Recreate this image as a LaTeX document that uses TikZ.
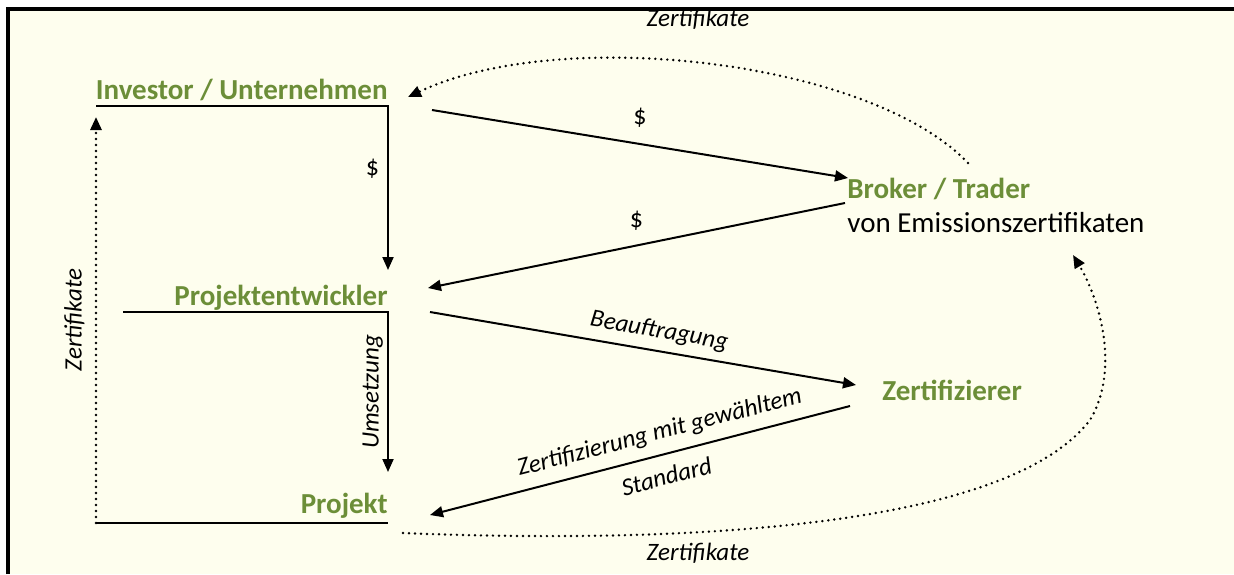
\documentclass[tikz,border=0pt]{standalone}
\usepackage{fontspec}
\setmainfont{Carlito}
\usetikzlibrary{arrows.meta}
\definecolor{cream}{RGB}{254,254,238}
\definecolor{olive}{RGB}{108,142,56}
\tikzset{
  lab/.style={font=\fontsize{14.5}{16}\selectfont\bfseries, text=olive, inner sep=0pt},
  sub/.style={font=\fontsize{14.5}{16}\selectfont, text=black, inner sep=0pt},
  elab/.style={font=\fontsize{12.5}{14}\selectfont\itshape, inner sep=1pt},
  dlab/.style={font=\fontsize{13}{14}\selectfont, inner sep=1pt},
  arr/.style={line width=1pt, -{Triangle[length=6.5pt,width=5.5pt]}},
  plain/.style={line width=1pt},
  dots/.style={line width=1.35pt, line cap=round, dash pattern=on 0pt off 3pt},
  dotarr/.style={dots, -{Triangle[length=6.5pt,width=5.5pt]}},
}
\begin{document}
\begin{tikzpicture}[x=0.5pt,y=-0.5pt]
\useasboundingbox (0,0) rectangle (1234,574);
\fill[white] (0,0) rectangle (1234,574);
\fill[cream] (8,9) rectangle (1234,574);
\draw[line width=1.6pt] (8,574) -- (8,9) -- (1234,9);

% labels
\node[lab, anchor=base east] (inv) at (388,99) {Investor / Unternehmen};
\node[lab, anchor=base east] (pe) at (388,305) {Projektentwickler};
\node[lab, anchor=base east] (proj) at (388,513) {Projekt};
\node[lab, anchor=base west] (brk) at (847,198) {Broker / Trader};
\node[sub, anchor=base west] (brk2) at (847,232) {von Emissionszertifikaten};
\node[lab, anchor=base west] (zer) at (882,400) {Zertifizierer};

% coordinates
\coordinate (invL) at (96,106);
\coordinate (invR) at (388,106);
\coordinate (peIn) at (388,270);
\coordinate (peL) at (123,312);
\coordinate (peR) at (388,312);
\coordinate (projIn) at (388,472);
\coordinate (projL) at (96,523);
\coordinate (projR) at (388,523);
\coordinate (invIn) at (96,117);
\coordinate (invOut) at (432,110);
\coordinate (brkIn) at (848,178);
\coordinate (brkOut) at (845,203);
\coordinate (peIn2) at (428,288);
\coordinate (peOut) at (430,312);
\coordinate (zerIn) at (856,385);
\coordinate (zerOut) at (850,406);
\coordinate (projIn2) at (430,515);
\coordinate (brkTop) at (968,163);
\coordinate (invIn2) at (408,97);
\coordinate (projOut) at (403,533);
\coordinate (brkIn2) at (1073,255);

% vertical flows
\draw[arr] (invL) -- (invR) -- (peIn) node[dlab, left=3pt, pos=0.38] {\$};
\draw[arr] (peL) -- (peR) -- (projIn) node[elab, midway, rotate=90, anchor=south, yshift=1pt] {Umsetzung};
\draw[plain] (projL) -- (projR);
\draw[dotarr] (projL) -- (invIn) node[elab, pos=0.5, rotate=90, anchor=south, yshift=4pt] {Zertifikate};

% diagonal flows
\draw[arr] (invOut) -- (brkIn) node[dlab, midway, above=7pt] {\$};
\draw[arr] (brkOut) -- (peIn2) node[dlab, midway, above=6pt] {\$};
\draw[arr] (peOut) -- (zerIn) node[elab, pos=0.53, sloped, above=3pt] {Beauftragung};
\draw[arr] (zerOut) -- (projIn2)
  node[elab, pos=0.44, sloped, above=4pt] {Zertifizierung mit gewähltem}
  node[elab, pos=0.45, sloped, below=5pt] {Standard};

% certificate curves
\draw[dotarr] (brkTop) .. controls (870,60) and (560,25) .. (invIn2);
\node[elab] (ztop) at (698,19) {Zertifikate};
\draw[dotarr] (projOut) .. controls (700,545) and (1010,525) .. (1090,420) .. controls (1120,370) and (1100,300) .. (brkIn2);
\node[elab] (zbot) at (698,553) {Zertifikate};
\end{tikzpicture}
\end{document}
